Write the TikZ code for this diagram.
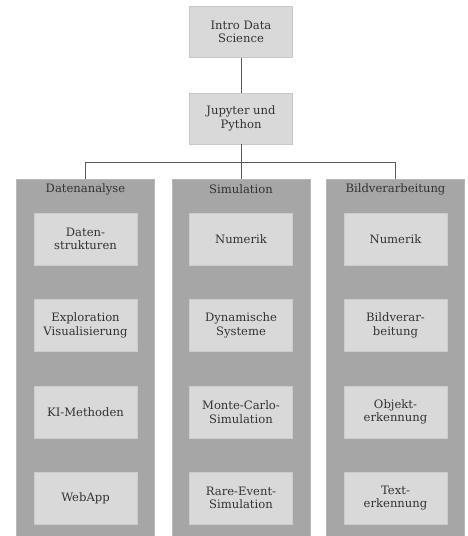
\documentclass[tikz,border=0pt]{standalone}
\usepackage{fontspec}
\setmainfont{DejaVu Serif}

\definecolor{boxgray}{HTML}{D9D9D9}
\definecolor{colgray}{HTML}{A6A6A6}
\definecolor{linegray}{HTML}{595959}
\definecolor{textgray}{HTML}{333333}

\tikzset{
  topbox/.style={fill=boxgray,draw=boxgray!80!gray,line width=0.4pt,minimum width=103pt,minimum height=51pt,align=center,font=\fontsize{11.6}{13.5}\selectfont,text=textgray,inner sep=0pt},
  topicbox/.style={fill=boxgray,draw=boxgray!85!gray,line width=0.4pt,minimum width=103pt,minimum height=52pt,align=center,font=\fontsize{11.6}{13.5}\selectfont,text=textgray,inner sep=0pt},
  column/.style={fill=colgray,draw=colgray!80!white,line width=0.4pt,minimum width=138pt,minimum height=360pt,inner sep=0pt},
  coltitle/.style={font=\fontsize{11.6}{13.5}\selectfont,text=textgray},
  link/.style={draw=linegray,line width=0.9pt}
}

\begin{document}
\begin{tikzpicture}[x=1pt,y=-1pt]
      \useasboundingbox (0,0) rectangle (468,536);

      \node[topbox] (intro) at (241, 32) {Intro Data\\Science};
      \node[topbox] (jupyter) at (241, 118.5) {Jupyter und\\Python};

      % The columns run past the lower edge.
      \node[column,anchor=north] (daten) at (85.5, 179) {};
      \node[column,anchor=north] (simu) at (241, 179) {};
      \node[column,anchor=north] (bild) at (395.5, 179) {};

      \node[coltitle] (datentitle) at (85.5, 189) {Datenanalyse};
      \node[coltitle] (simutitle) at (241, 189) {Simulation};
      \node[coltitle] (bildtitle) at (395.5, 189) {Bildverarbeitung};

      \coordinate (fork) at (241, 162);
      \draw[link] (intro) -- (jupyter);
      \draw[link] (jupyter) -- (fork);
      \draw[link] (fork) -| (daten.north);
      \draw[link] (fork) -| (bild.north);
      \draw[link] (fork) -- (simu.north);

      \node[topicbox] (strukturen) at (85.5, 239) {Daten-\\strukturen};
      \node[topicbox] (exploration) at (85.5, 325.5) {Exploration\\Visualisierung};
      \node[topicbox] (kimethoden) at (85.5, 412) {KI-Methoden};
      \node[topicbox] (webapp) at (85.5, 498) {WebApp};

      \node[topicbox] (numerik) at (241, 239) {Numerik};
      \node[topicbox] (dynamik) at (241, 325.5) {Dynamische\\Systeme};
      \node[topicbox] (montecarlo) at (241, 412) {Monte-Carlo-\\Simulation};
      \node[topicbox] (rareevent) at (241, 498) {Rare-Event-\\Simulation};

      \node[topicbox] (bildnumerik) at (395.5, 239) {Numerik};
      \node[topicbox] (bildverarb) at (395.5, 325.5) {Bildverar-\\beitung};
      \node[topicbox] (objekt) at (395.5, 412) {Objekt-\\erkennung};
      \node[topicbox] (text) at (395.5, 498) {Text-\\erkennung};
    \end{tikzpicture}
\end{document}
